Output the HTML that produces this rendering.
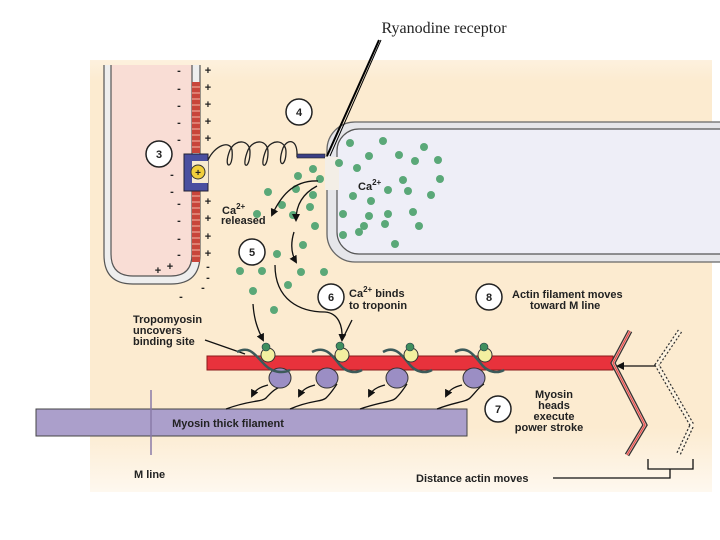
<!DOCTYPE html>
<html><head><style>
html,body{margin:0;padding:0;background:#fff;}
svg{display:block;}
text{font-family:"Liberation Sans",Arial,sans-serif;font-weight:bold;fill:#222;}
</style></head><body>
<svg width="720" height="540" viewBox="0 0 720 540" xmlns="http://www.w3.org/2000/svg">
<defs>
<linearGradient id="bg" x1="0" y1="0" x2="0" y2="1">
<stop offset="0" stop-color="#fdf1de"/><stop offset="0.05" stop-color="#fcebd0"/>
<stop offset="0.85" stop-color="#fcebd0"/><stop offset="1" stop-color="#fef8ef"/></linearGradient>
<marker id="ah" markerWidth="8" markerHeight="8" refX="6" refY="4" orient="auto" markerUnits="userSpaceOnUse"><path d="M0,0 L8,4 L0,8 z" fill="#111"/></marker>
</defs>
<rect x="90" y="60" width="622" height="432" fill="url(#bg)"/>
<text x="444" y="33" text-anchor="middle" style="font-family:'Liberation Serif',serif;font-weight:normal;font-size:16px" fill="#000">Ryanodine receptor</text>
<!-- T tubule -->
<path d="M104,65 V255 Q104,284 133,284 H171 Q200,284 200,255 V65" fill="#eee" stroke="#555" stroke-width="1.2"/>
<path d="M111,65 V254 Q111,276 133,276 H171 Q192,276 192,254 V65" fill="#f9ddd5" stroke="#555" stroke-width="1.2"/>
<g fill="#c8453a">
<rect x="192" y="82" width="8" height="71"/><rect x="192" y="190" width="8" height="72"/></g>
<g stroke="#f3b9a8" stroke-width="1">
<path d="M192,87H200M192,93H200M192,99H200M192,105H200M192,111H200M192,117H200M192,123H200M192,129H200M192,135H200M192,141H200M192,147H200M192,196H200M192,202H200M192,208H200M192,214H200M192,220H200M192,226H200M192,232H200M192,238H200M192,244H200M192,250H200M192,256H200"/></g>
<rect x="184" y="154" width="24" height="37" fill="#4a4fa0" stroke="#223" stroke-width="1"/>
<rect x="192" y="161" width="16" height="22" fill="#f8ebd0"/>
<circle cx="198" cy="172" r="7" fill="#f1cf3c" stroke="#333"/>
<text x="198" y="176" font-size="10" text-anchor="middle">+</text>
<g font-size="11" text-anchor="middle">
<text x="179" y="74">-</text><text x="179" y="92">-</text><text x="179" y="109">-</text><text x="179" y="126">-</text><text x="179" y="143">-</text><text x="172" y="178">-</text><text x="172" y="195">-</text><text x="179" y="207">-</text><text x="179" y="224">-</text><text x="179" y="242">-</text><text x="179" y="258">-</text>
<text x="208" y="74">+</text><text x="208" y="91">+</text><text x="208" y="108">+</text><text x="208" y="125">+</text><text x="208" y="142">+</text><text x="208" y="205">+</text><text x="208" y="222">+</text><text x="208" y="240">+</text><text x="208" y="257">+</text>
<text x="158" y="274">+</text><text x="170" y="270">+</text>
<text x="208" y="270">-</text><text x="208" y="281">-</text><text x="203" y="291">-</text><text x="181" y="300">-</text></g>
<!-- spring -->
<path d="M208,160 C215,145 230,140 232,150 C234,170 222,170 230,150 C236,138 250,140 250,152 C250,170 240,170 248,150 C254,138 268,140 268,152 C268,170 258,170 266,150 C272,138 286,140 286,152 C286,168 276,168 283,148 C288,138 296,140 297,152 V157" fill="none" stroke="#222" stroke-width="1.3"/>
<rect x="297" y="154" width="28" height="4" fill="#3a3f85" stroke="#222" stroke-width="0.6"/>
<!-- SR -->
<rect x="327" y="122" width="420" height="140" rx="28" fill="#e6e6ea" stroke="#666" stroke-width="1.3"/>
<rect x="337" y="129" width="410" height="125" rx="22" fill="#eeeef7" stroke="#555" stroke-width="1.2"/>
<rect x="325" y="157" width="14" height="33" fill="#f3eee6"/>
<!-- receptor pointer -->
<path d="M379,40 L327,156" stroke="#000" stroke-width="2"/>
<path d="M381,40 L330,156" stroke="#000" stroke-width="1"/>
<!-- Ca dots -->
<g fill="#5aa878">
<circle cx="350" cy="143" r="4"/><circle cx="383" cy="141" r="4"/><circle cx="424" cy="147" r="4"/><circle cx="369" cy="156" r="4"/><circle cx="399" cy="155" r="4"/><circle cx="415" cy="161" r="4"/><circle cx="438" cy="160" r="4"/><circle cx="339" cy="163" r="4"/><circle cx="357" cy="168" r="4"/><circle cx="403" cy="180" r="4"/><circle cx="388" cy="190" r="4"/><circle cx="408" cy="191" r="4"/><circle cx="431" cy="195" r="4"/><circle cx="440" cy="179" r="4"/><circle cx="353" cy="196" r="4"/><circle cx="371" cy="201" r="4"/><circle cx="343" cy="214" r="4"/><circle cx="369" cy="216" r="4"/><circle cx="388" cy="214" r="4"/><circle cx="413" cy="212" r="4"/><circle cx="385" cy="224" r="4"/><circle cx="359" cy="232" r="4"/><circle cx="395" cy="244" r="4"/><circle cx="419" cy="226" r="4"/><circle cx="343" cy="235" r="4"/><circle cx="364" cy="226" r="4"/>
<circle cx="313" cy="169" r="4"/><circle cx="298" cy="176" r="4"/><circle cx="320" cy="179" r="4"/><circle cx="268" cy="192" r="4"/><circle cx="296" cy="189" r="4"/><circle cx="313" cy="195" r="4"/><circle cx="282" cy="205" r="4"/><circle cx="310" cy="207" r="4"/><circle cx="293" cy="215" r="4"/><circle cx="257" cy="214" r="4"/><circle cx="315" cy="226" r="4"/><circle cx="303" cy="245" r="4"/><circle cx="277" cy="254" r="4"/><circle cx="240" cy="271" r="4"/><circle cx="262" cy="271" r="4"/><circle cx="301" cy="272" r="4"/><circle cx="324" cy="272" r="4"/><circle cx="288" cy="285" r="4"/><circle cx="253" cy="291" r="4"/><circle cx="274" cy="310" r="4"/></g>
<!-- arrows -->
<g fill="none" stroke="#111" stroke-width="1.3" marker-end="url(#ah)">
<path d="M318,181 C292,180 280,198 272,215"/>
<path d="M317,186 C300,195 296,208 296,220"/>
<path d="M294,232 C290,245 292,255 296,262"/>
<path d="M253,304 C254,320 258,330 263,340"/>
<path d="M275,265 C275,300 300,312 325,312 C338,313 343,325 342,340"/>
<path d="M352,320 L343,338" marker-end="none"/>
</g>
<!-- labels -->
<text x="222" y="214" font-size="11">Ca<tspan dy="-5" font-size="8">2+</tspan></text>
<text x="221" y="224" font-size="11">released</text>
<text x="358" y="190" font-size="11">Ca<tspan dy="-5" font-size="8">2+</tspan></text>
<text x="349" y="297" font-size="11">Ca<tspan dy="-5" font-size="8">2+</tspan><tspan dy="5"> binds</tspan></text>
<text x="349" y="309" font-size="11">to troponin</text>
<text x="512" y="298" font-size="11">Actin filament moves</text>
<text x="530" y="309" font-size="11">toward M line</text>
<text x="133" y="323" font-size="11">Tropomyosin</text>
<text x="133" y="334" font-size="11">uncovers</text>
<text x="133" y="345" font-size="11">binding site</text>
<path d="M205,340 L245,354" stroke="#111" stroke-width="1.3"/>
<g font-size="11" text-anchor="middle"><text x="554" y="398">Myosin</text><text x="554" y="409">heads</text><text x="554" y="420">execute</text><text x="549" y="431">power stroke</text></g>
<!-- circles -->
<g stroke="#222" stroke-width="1.5" fill="#fff">
<circle cx="159" cy="154" r="13"/><circle cx="299" cy="112" r="13"/><circle cx="252" cy="252" r="13"/><circle cx="331" cy="297" r="13"/><circle cx="489" cy="297" r="13"/><circle cx="498" cy="409" r="13"/></g>
<g font-size="11" text-anchor="middle"><text x="159" y="158">3</text><text x="299" y="116">4</text><text x="252" y="256">5</text><text x="331" y="301">6</text><text x="489" y="301">8</text><text x="498" y="413">7</text></g>
<!-- myosin filament -->
<rect x="36" y="409" width="431" height="27" fill="#ab9fcb" stroke="#444" stroke-width="1"/>
<text x="228" y="427" font-size="11" text-anchor="middle">Myosin thick filament</text>
<path d="M151,390 V455" stroke="#8a7aa8" stroke-width="1.5"/>
<text x="134" y="478" font-size="11">M line</text>
<!-- myosin necks -->
<g fill="none" stroke="#111" stroke-width="1.3">
<path d="M226,409 C250,400 262,402 266,398 C272,392 274,388 289,384"/>
<path d="M290,409 C310,400 322,402 326,398 C332,392 334,388 337,384"/>
<path d="M360,409 C380,402 392,402 396,398 C402,392 404,388 407,384"/>
<path d="M437,409 C455,402 466,402 470,398 C476,392 478,388 484,384"/></g>
<!-- actin -->
<rect x="207" y="356" width="406" height="14" fill="#e8323c" stroke="#8a1a1a" stroke-width="1"/>
<!-- heads -->
<g fill="#9b8ec4" stroke="#333" stroke-width="1">
<ellipse cx="280" cy="378" rx="11" ry="10"/><ellipse cx="327" cy="378" rx="11" ry="10"/><ellipse cx="397" cy="378" rx="11" ry="10"/><ellipse cx="474" cy="378" rx="11" ry="10"/></g>
<g fill="none" stroke="#111" stroke-width="1.3" marker-end="url(#ah)">
<path d="M268,385 C260,387 255,390 252,396"/><path d="M315,385 C307,387 302,390 299,396"/><path d="M385,385 C377,387 372,390 369,396"/><path d="M462,385 C454,387 449,390 446,396"/></g>
<!-- tropomyosin -->
<g fill="none" stroke="#3c5a5a" stroke-width="2.5">
<path d="M237,352 C250,345 255,355 265,365 C272,372 282,374 290,370"/>
<path d="M312,352 C325,345 332,355 340,365 C346,372 355,374 362,370"/>
<path d="M383,352 C395,345 402,355 410,365 C416,372 425,374 432,370"/>
<path d="M455,352 C467,345 474,355 482,365 C488,372 497,374 504,370"/></g>
<g fill="#f3f0a0" stroke="#333" stroke-width="1">
<circle cx="268" cy="355" r="7"/><circle cx="342" cy="355" r="7"/><circle cx="411" cy="355" r="7"/><circle cx="485" cy="355" r="7"/></g>
<g fill="#3f8e5e" stroke="#234" stroke-width="0.6">
<circle cx="266" cy="347" r="4"/><circle cx="340" cy="346" r="4"/><circle cx="410" cy="347" r="4"/><circle cx="484" cy="347" r="4"/></g>
<!-- Z lines -->
<path d="M630,331 L613,363 L645,425 L627,455" fill="none" stroke="#333" stroke-width="5"/>
<path d="M630,331 L613,363 L645,425 L627,455" fill="none" stroke="#f4a7a0" stroke-width="2.5"/>
<path d="M630,331 L613,363 L645,425 L627,455" fill="none" stroke="#e23a3a" stroke-width="0.8"/>
<path d="M680,331 L657,365 L692,425 L678,455" fill="none" stroke="#333" stroke-width="5" stroke-dasharray="2,2"/>
<path d="M680,331 L657,365 L692,425 L678,455" fill="none" stroke="#fdf3e0" stroke-width="2.5"/>
<path d="M655,366 H618" stroke="#111" stroke-width="1.3" marker-end="url(#ah)"/>
<!-- distance -->
<text x="416" y="482" font-size="11">Distance actin moves</text>
<path d="M553,478 H670 V469 M648,459 V469 H693 V459" fill="none" stroke="#111" stroke-width="1.3"/>
</svg>
</body></html>
